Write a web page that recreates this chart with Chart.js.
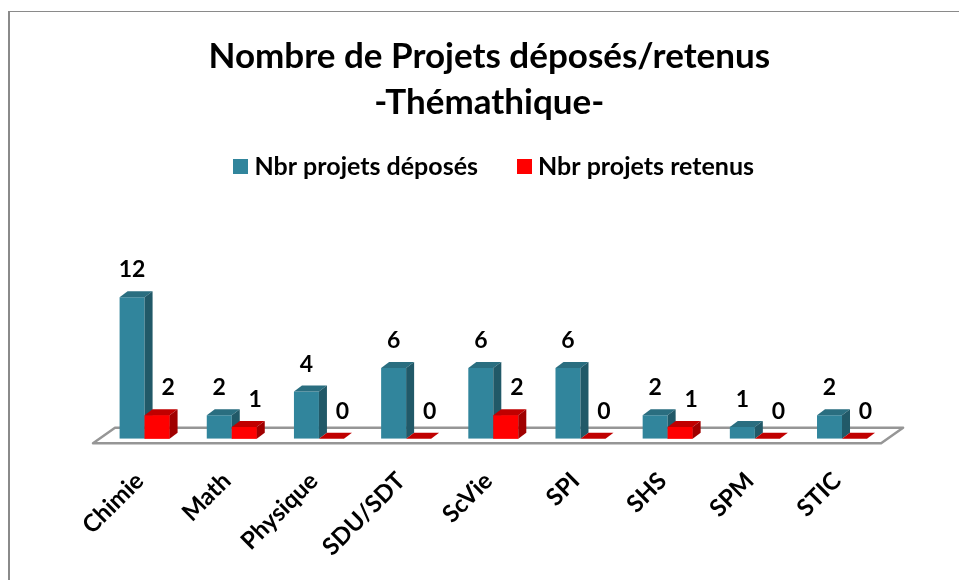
<!DOCTYPE html>
<html><head><meta charset="utf-8">
<style>
html,body{margin:0;padding:0;background:#fff;width:959px;height:580px;overflow:hidden}
#frame{position:absolute;left:8px;top:11px;width:963px;height:569px;border-top:1.5px solid #8a8a8a;border-left:2px solid #8a8a8a;box-sizing:border-box;overflow:hidden}
#wrap{position:absolute;left:8px;top:11px;width:963px;height:569px}
</style></head><body>
<div id="frame"></div>
<div id="wrap"><canvas id="c" width="963" height="569"></canvas></div>
<script src="https://cdn.jsdelivr.net/npm/chart.js@4"></script>
<script>
const categories=["Chimie","Math","Physique","SDU/SDT","ScVie","SPI","SHS","SPM","STIC"];
const deposes=[12,2,4,6,6,6,2,1,2];
const retenus=[2,1,0,0,2,0,1,0,0];
const seriesNames=["Nbr projets déposés","Nbr projets retenus"];
const titleLines=["Nombre de Projets déposés/retenus","-Thémathique-"];
const depthX=8, depthY=6;
const shades=[{front:"#31859c",top:"#2a6e80",side:"#215968"},{front:"#ff0000",top:"#c00000",side:"#a00000"}];
const labelFont='bold 23px Lato';
function swatch(color){
  const s=document.createElement('canvas');s.width=15;s.height=15;
  const g=s.getContext('2d');g.fillStyle=color;g.fillRect(0,0,15,15);return s;
}
const bars3d={
  id:'bars3d',
  afterLayout(chart){
    chart.titleBlock.left-=4;chart.titleBlock.right-=4;
    chart.legend.left+=3.7;chart.legend.right+=3.7;
  },
  beforeDatasetsDraw(chart){
    const {ctx,chartArea:a,scales:{y}}=chart;
    const b=y.getPixelForValue(0);
    const fy=b+4.5, by=b-11, l=a.left-8, r=a.right-4.5;
    ctx.save();ctx.strokeStyle='#969696';ctx.lineWidth=2.5;ctx.lineJoin='round';ctx.fillStyle='#fff';
    ctx.beginPath();ctx.moveTo(l,fy);ctx.lineTo(l+22,by);ctx.lineTo(r+22,by);ctx.lineTo(r,fy);ctx.closePath();ctx.fill();ctx.stroke();ctx.restore();
  },
  afterDatasetsDraw(chart){
    const {ctx}=chart;
    [0,1].forEach(i=>{
      const c=shades[i];
      chart.getDatasetMeta(i).data.forEach(el=>{
        if(i===1) el.draw(ctx);
        const x0=el.x-el.width/2,x1=el.x+el.width/2,t=el.y,bb=el.base;
        ctx.fillStyle=c.top;
        ctx.beginPath();ctx.moveTo(x0,t);ctx.lineTo(x0+depthX,t-depthY);ctx.lineTo(x1+depthX,t-depthY);ctx.lineTo(x1,t);ctx.closePath();ctx.fill();
        if(bb-t>0.5){
          ctx.fillStyle=c.side;
          ctx.beginPath();ctx.moveTo(x1,t);ctx.lineTo(x1+depthX,t-depthY);ctx.lineTo(x1+depthX,bb-depthY);ctx.lineTo(x1,bb);ctx.closePath();ctx.fill();
        }
      });
    });
    ctx.save();ctx.font=labelFont;ctx.fillStyle='#000';ctx.textAlign='center';ctx.textBaseline='middle';
    [0,1].forEach(i=>{
      const vals=chart.data.datasets[i].data;
      chart.getDatasetMeta(i).data.forEach((el,k)=>{
        ctx.fillText(String(vals[k]),el.x+(i===1?11:0),el.y-27.5);
      });
    });
    ctx.restore();
  }
};
new Chart(document.getElementById('c'),{
  type:'bar',
  data:{labels:categories,datasets:[
    {label:seriesNames[0],data:deposes,backgroundColor:shades[0].front,borderWidth:0,pointStyle:swatch(shades[0].front)},
    {label:seriesNames[1],data:retenus,backgroundColor:shades[1].front,borderWidth:0,pointStyle:swatch(shades[1].front)}
  ]},
  options:{
    responsive:false,animation:false,
    layout:{padding:{left:93,right:85.4,top:23,bottom:0}},
    datasets:{bar:{categoryPercentage:0.5734,barPercentage:1}},
    scales:{
      x:{grid:{display:false},border:{display:false},
         ticks:{color:'#000',font:{family:'Lato',size:24,weight:'bold'},autoSkip:false,minRotation:45,maxRotation:45,padding:20,labelOffset:-5},
         afterFit(s){s.height=141.3;}},
      y:{display:false,min:0,max:21.2}
    },
    plugins:{
      title:{display:true,text:titleLines,color:'#000',font:{family:'Lato',size:35,weight:'bold',lineHeight:1.314},padding:{top:0,bottom:-17.5}},
      legend:{display:true,position:'top',labels:{color:'#000',font:{family:'Lato',size:25,weight:'bold'},usePointStyle:true,pointStyleWidth:2,boxHeight:15,padding:45.5}},
      tooltip:{enabled:false}
    }
  },
  plugins:[bars3d]
});
</script>
</body></html>
